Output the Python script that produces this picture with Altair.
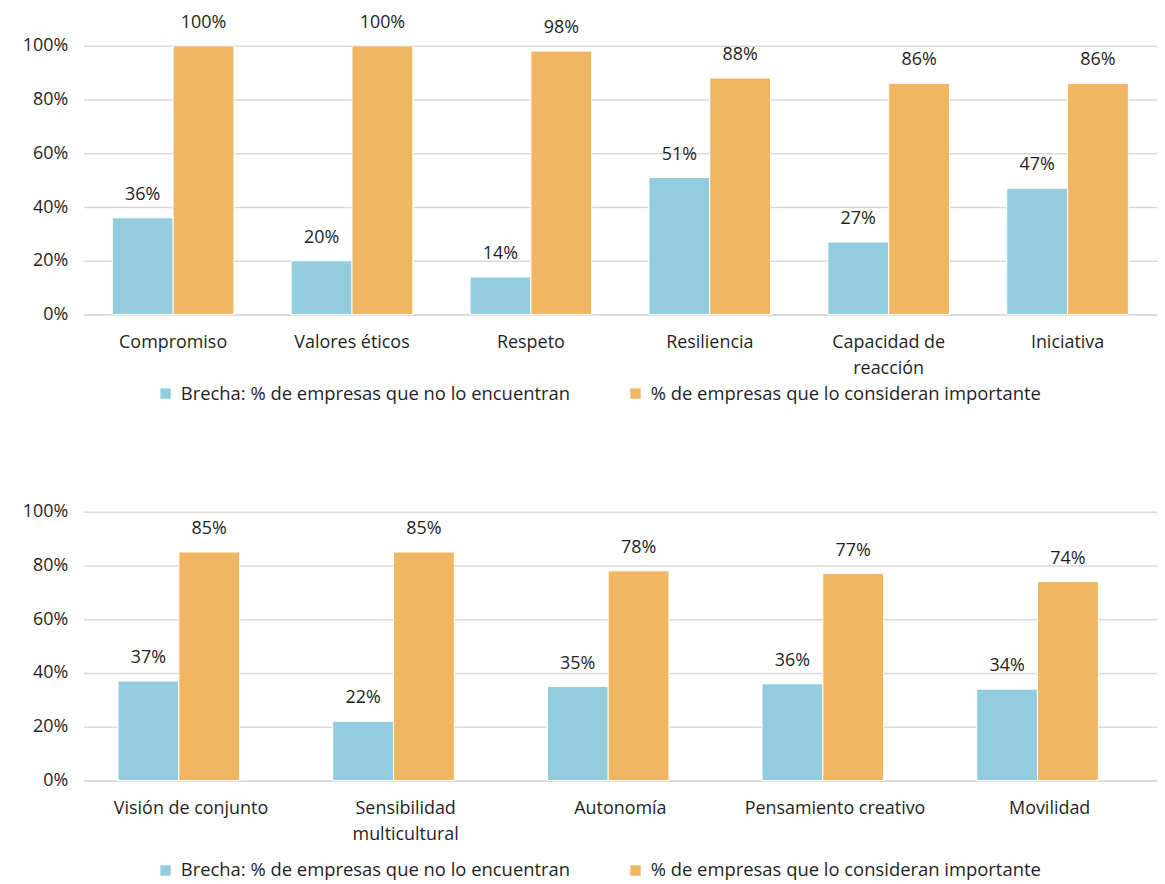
import altair as alt
import pandas as pd

series = ["Brecha: % de empresas que no lo encuentran",
          "% de empresas que lo consideran importante"]
colors = ["#93CDDD", "#F0B662"]

top_cats = ["Compromiso", "Valores éticos", "Respeto", "Resiliencia",
            "Capacidad de reacción", "Iniciativa"]
top_brecha = [36, 20, 14, 51, 27, 47]
top_importante = [100, 100, 98, 88, 86, 86]

bot_cats = ["Visión de conjunto", "Sensibilidad multicultural", "Autonomía",
            "Pensamiento creativo", "Movilidad"]
bot_brecha = [37, 22, 35, 36, 34]
bot_importante = [85, 85, 78, 77, 74]

y_ticks = [0, 0.2, 0.4, 0.6, 0.8, 1.0]
wrapped = {"Capacidad de reacción": ["Capacidad de", "reacción"],
           "Sensibilidad multicultural": ["Sensibilidad", "multicultural"]}

FONT = "Open Sans"
TXT = "#1f1f1f"
GRID = "#D9D9D9"


def make_df(cats, a, b):
    rows = []
    for c, va, vb in zip(cats, a, b):
        rows.append({"cat": c, "serie": series[0], "v": va / 100})
        rows.append({"cat": c, "serie": series[1], "v": vb / 100})
    return pd.DataFrame(rows)


label_expr = " : ".join(
    [f"datum.label == '{k}' ? {v!r}" for k, v in wrapped.items()]
) + " : datum.label"


def panel(cats, a, b, legend_y):
    df = make_df(cats, a, b)
    base = alt.Chart(df).encode(
        x=alt.X("cat:N", sort=cats, title=None,
                scale=alt.Scale(paddingInner=0.32, paddingOuter=0.16),
                axis=alt.Axis(labelAngle=0, ticks=False, domainColor=GRID,
                              domainWidth=1.5, labelPadding=19, labelLimit=300,
                              labelExpr=label_expr, labelLineHeight=26)),
        xOffset=alt.XOffset("serie:N", sort=series),
        y=alt.Y("v:Q", title=None,
                scale=alt.Scale(domain=[0, 1]),
                axis=alt.Axis(values=y_ticks, format=".0%", domain=False,
                              ticks=False, gridColor=GRID, gridWidth=1.5,
                              labelPadding=16)),
    )
    bars = base.mark_bar(stroke="white", strokeWidth=1).encode(
        color=alt.Color("serie:N", sort=series,
                        scale=alt.Scale(domain=series, range=colors),
                        legend=alt.Legend(title=None, orient="none",
                                          direction="horizontal",
                                          legendX=73, legendY=legend_y,
                                          symbolType="square", symbolSize=110,
                                          symbolStrokeWidth=0,
                                          columnPadding=56, labelOffset=6,
                                          labelFontSize=18.5, labelFont=FONT,
                                          labelColor=TXT, labelLimit=600))
    )
    texts = base.mark_text(baseline="alphabetic", dy=-18, fontSize=18,
                           font=FONT, color=TXT).encode(
        text=alt.Text("v:Q", format=".0%")
    )
    return alt.layer(bars, texts).properties(width=1078, height=270)


top = panel(top_cats, top_brecha, top_importante, 340)
bot = panel(bot_cats, bot_brecha, bot_importante, 351)

chart = alt.vconcat(top, bot, spacing=100).resolve_scale(
    color="independent", x="independent"
).properties(
    padding={"left": 14, "top": 4, "right": 0, "bottom": 0}
).configure_view(stroke=None).configure_axis(
    labelFont=FONT, labelFontSize=18, labelColor=TXT
)

chart.save("out.html", embed_options={"renderer": "svg", "actions": False})
